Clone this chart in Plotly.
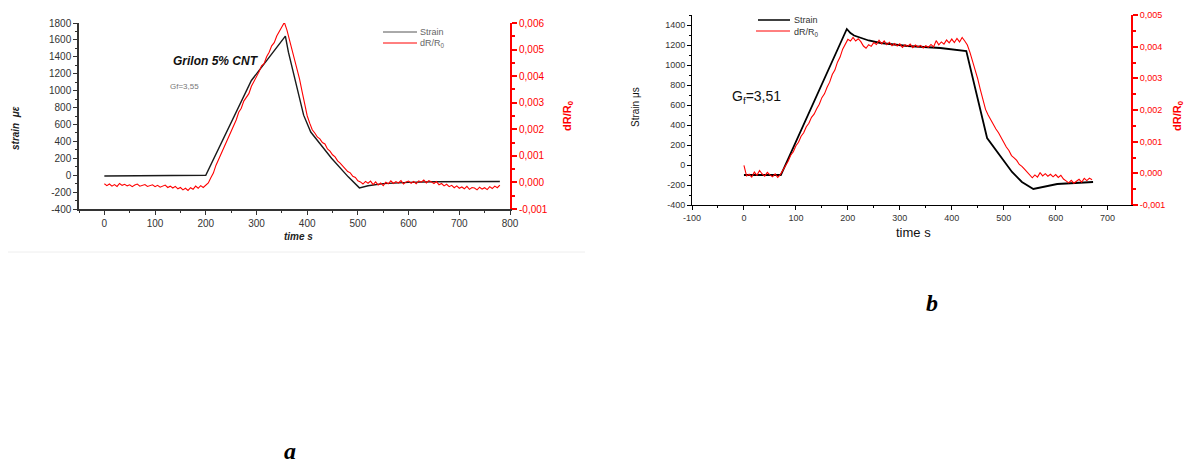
import plotly.graph_objects as go

# The page body has an 8px margin, so the figure is drawn 8px in from the window edge.
OFF = 8
W, H = 1194 - OFF, 467 - OFF

# ---------------- Panel a data ----------------
strain_a_t = [0, 195, 200, 290, 357, 363, 377, 393, 407, 448, 481, 503, 520, 550, 600, 650, 780]
strain_a_v = [-10, -5, 0, 1120, 1645, 1455, 1100, 710, 510, 200, -20, -150, -125, -100, -85, -78, -75]

dr_a_t0, dr_a_dt = 0, 5
dr_a = [
    -0.00005, -0.00012, -0.00006, -0.00014, -0.00008, -0.00015, -0.00004, -0.00011, -0.00007, -0.00013,
    -0.00009, -0.00016, -0.00010, -0.00006, -0.00014, -0.00011, -0.00008, -0.00015, -0.00012, -0.00009,
    -0.00016, -0.00011, -0.00018, -0.00013, -0.00010, -0.00019, -0.00014, -0.00021, -0.00015, -0.00024,
    -0.00019, -0.00028, -0.00022, -0.00030, -0.00020, -0.00026, -0.00014, -0.00022, -0.00012, -0.00019,
    -0.00009, -0.00002, 0.00018, 0.00035, 0.00064, 0.00086, 0.00102, 0.00131, 0.00146, 0.00175,
    0.00192, 0.00218, 0.00235, 0.00264, 0.00279, 0.00306, 0.00321, 0.00334, 0.00362, 0.00379,
    0.00398, 0.00416, 0.00439, 0.00447, 0.00473, 0.00490, 0.00514, 0.00526, 0.00551, 0.00568,
    0.00589, 0.00602, 0.00574, 0.00538, 0.00501, 0.00465, 0.00426, 0.00389, 0.00342, 0.00297,
    0.00251, 0.00223, 0.00198, 0.00186, 0.00171, 0.00164, 0.00150, 0.00145, 0.00126, 0.00118,
    0.00104, 0.00096, 0.00081, 0.00073, 0.00062, 0.00054, 0.00041, 0.00036, 0.00023, 0.00019,
    0.00006, 0.00002, -0.00006, 0.00004, -0.00003, 0.00005, -0.00008, 0.00002, -0.00010, -0.00002,
    -0.00012, 0.00001, -0.00005, 0.00006, -0.00004, 0.00003, -0.00002, 0.00007, -0.00006, 0.00002,
    0.00005, -0.00003, 0.00004, -0.00005, 0.00006, 0.00001, 0.00009, -0.00002, 0.00007, 0.00002,
    -0.00004, 0.00003, -0.00009, -0.00004, -0.00013, -0.00007, -0.00016, -0.00011, -0.00020, -0.00013,
    -0.00022, -0.00017, -0.00024, -0.00015, -0.00026, -0.00019, -0.00021, -0.00028, -0.00018, -0.00025,
    -0.00020, -0.00027, -0.00016, -0.00023, -0.00014, -0.00020, -0.00010,
]

# ---------------- Panel b data ----------------
strain_b_t = [0, 71, 198, 205, 212, 225, 240, 263, 315, 378, 428, 468, 490, 516, 535, 557, 603, 672]
strain_b_v = [-100, -100, 1360, 1320, 1295, 1270, 1245, 1220, 1190, 1170, 1140, 270, 110, -70, -170, -240, -190, -170]

dr_b_t0, dr_b_dt = 0, 5
dr_b = [
    0.00025, -0.00008, -0.00003, -0.00012, 0.00004, -0.00006, 0.00009, -0.00002, -0.00009, 0.00003,
    -0.00005, -0.00011, -0.00002, -0.00013, -0.00004, 0.00010, 0.00027, 0.00038, 0.00057, 0.00068,
    0.00087, 0.00098, 0.00117, 0.00128, 0.00147, 0.00158, 0.00177, 0.00187, 0.00204, 0.00218,
    0.00239, 0.00251, 0.00272, 0.00288, 0.00312, 0.00326, 0.00351, 0.00367, 0.00392, 0.00406,
    0.00423, 0.00418, 0.00429, 0.00418, 0.00425, 0.00416, 0.00402, 0.00395, 0.00406, 0.00401,
    0.00413, 0.00407, 0.00420, 0.00409, 0.00418, 0.00406, 0.00414, 0.00403, 0.00410, 0.00402,
    0.00409, 0.00398, 0.00406, 0.00401, 0.00408, 0.00397, 0.00405, 0.00399, 0.00404, 0.00396,
    0.00403, 0.00398, 0.00407, 0.00399, 0.00419, 0.00406, 0.00415, 0.00408, 0.00421, 0.00412,
    0.00424, 0.00413, 0.00426, 0.00415, 0.00429, 0.00418, 0.00405, 0.00382, 0.00356, 0.00331,
    0.00298, 0.00264, 0.00231, 0.00202, 0.00184, 0.00169, 0.00151, 0.00140, 0.00128, 0.00112,
    0.00101, 0.00083, 0.00072, 0.00056, 0.00049, 0.00041, 0.00028, 0.00022, 0.00013, 0.00004,
    -0.00006, -0.00014, -0.00005, -0.00012, 0.00002, -0.00008, -0.00001, -0.00009, -0.00003, -0.00011,
    -0.00004, -0.00013, -0.00006, -0.00018, -0.00024, -0.00030, -0.00022, -0.00031, -0.00025, -0.00019,
    -0.00028, -0.00016, -0.00023, -0.00015, -0.00020,
]

# ---------------- tick labels ----------------
xa_ticks = [0, 100, 200, 300, 400, 500, 600, 700, 800]
xa_text = ["0", "100", "200", "300", "400", "500", "600", "700", "800"]
ya_ticks = [-400, -200, 0, 200, 400, 600, 800, 1000, 1200, 1400, 1600, 1800]
ya_text = ["-400", "-200", "0", "200", "400", "600", "800", "1000", "1200", "1400", "1600", "1800"]
ya2_ticks = [-0.001, 0.0, 0.001, 0.002, 0.003, 0.004, 0.005, 0.006]
ya2_text = ["-0,001", "0,000", "0,001", "0,002", "0,003", "0,004", "0,005", "0,006"]
xb_ticks = [-100, 0, 100, 200, 300, 400, 500, 600, 700]
xb_text = ["-100", "0", "100", "200", "300", "400", "500", "600", "700"]
yb_ticks = [-400, -200, 0, 200, 400, 600, 800, 1000, 1200, 1400]
yb_text = ["-400", "-200", "0", "200", "400", "600", "800", "1000", "1200", "1400"]
yb2_ticks = [-0.001, 0.0, 0.001, 0.002, 0.003, 0.004, 0.005]
yb2_text = ["-0,001", "0,000", "0,001", "0,002", "0,003", "0,004", "0,005"]

FONT = "Liberation Sans"
RED = "#ff0000"


def px(x):
    return (x - OFF) / W


def py(y):
    return 1 - (y - OFF) / H


fig = go.Figure()

# Panel a traces
fig.add_trace(go.Scatter(x=strain_a_t, y=strain_a_v, mode="lines", xaxis="x", yaxis="y",
                         line=dict(color="#1a1a1a", width=1.4), showlegend=False))
fig.add_trace(go.Scatter(x0=dr_a_t0, dx=dr_a_dt, y=dr_a, mode="lines", xaxis="x", yaxis="y2",
                         line=dict(color=RED, width=1.1), showlegend=False))
# Panel b traces
fig.add_trace(go.Scatter(x=strain_b_t, y=strain_b_v, mode="lines", xaxis="x2", yaxis="y3",
                         line=dict(color="#000000", width=1.8), showlegend=False))
fig.add_trace(go.Scatter(x0=dr_b_t0, dx=dr_b_dt, y=dr_b, mode="lines", xaxis="x2", yaxis="y4",
                         line=dict(color=RED, width=1.1), showlegend=False))

tickfont_a = dict(family=FONT, size=10, color="#333333")
tickfont_b = dict(family=FONT, size=9, color="#333333")

common = dict(showgrid=False, zeroline=False, showline=True, ticks="outside",
              fixedrange=True, automargin=False, tickmode="array")

fig.update_layout(
    width=W, height=H,
    margin=dict(l=0, r=0, t=0, b=0, autoexpand=False),
    paper_bgcolor="white", plot_bgcolor="white",
    showlegend=False,
    xaxis=dict(domain=[px(79), px(510)], anchor="y", range=[-50, 800],
               tickvals=xa_ticks, ticktext=xa_text, ticklen=4, tickwidth=1,
               linecolor="#333333", linewidth=1.5, tickcolor="#333333", tickfont=tickfont_a,
               minor=dict(dtick=50, tick0=0, ticklen=2, ticks="outside", tickcolor="#333333"),
               **common),
    yaxis=dict(domain=[py(209), py(23)], anchor="x", range=[-400, 1800],
               tickvals=ya_ticks, ticktext=ya_text, ticklen=4, tickwidth=1,
               linecolor="#333333", linewidth=1.5, tickcolor="#333333", tickfont=tickfont_a,
               minor=dict(dtick=100, tick0=0, ticklen=2, ticks="outside", tickcolor="#333333"),
               **common),
    yaxis2=dict(overlaying="y", anchor="x", side="right", range=[-0.001, 0.006],
                tickvals=ya2_ticks, ticktext=ya2_text, ticklen=5, tickwidth=1.5,
                linecolor=RED, linewidth=2, tickcolor=RED,
                tickfont=dict(family=FONT, size=10, color=RED),
                minor=dict(dtick=0.0005, tick0=0, ticklen=3, ticks="outside", tickcolor=RED),
                **common),
    xaxis2=dict(domain=[px(692), px(1131)], anchor="y3", range=[-100, 745],
                tickvals=xb_ticks, ticktext=xb_text, ticklen=4, tickwidth=1,
                linecolor="#000000", linewidth=1, tickcolor="#000000", tickfont=tickfont_b,
                minor=dict(dtick=50, tick0=0, ticklen=2, ticks="outside", tickcolor="#000000"),
                **common),
    yaxis3=dict(domain=[py(205), py(15)], anchor="x2", range=[-400, 1500],
                tickvals=yb_ticks, ticktext=yb_text, ticklen=4, tickwidth=1,
                linecolor="#000000", linewidth=1, tickcolor="#000000", tickfont=tickfont_b,
                minor=dict(dtick=100, tick0=0, ticklen=2, ticks="outside", tickcolor="#000000"),
                **common),
    yaxis4=dict(overlaying="y3", anchor="x2", side="right", range=[-0.001, 0.005],
                tickvals=yb2_ticks, ticktext=yb2_text, ticklen=5, tickwidth=1.5,
                linecolor=RED, linewidth=2, tickcolor=RED,
                tickfont=dict(family=FONT, size=9, color=RED),
                minor=dict(dtick=0.0005, tick0=0, ticklen=3, ticks="outside", tickcolor=RED),
                **common),
)


def ann(x, y, text, size, color="#000000", bold=False, italic=False, angle=0,
        xanchor="center", yanchor="middle", family=FONT):
    t = text
    if bold:
        t = "<b>" + t + "</b>"
    if italic:
        t = "<i>" + t + "</i>"
    fig.add_annotation(x=px(x), y=py(y), xref="paper", yref="paper", text=t, showarrow=False,
                       xanchor=xanchor, yanchor=yanchor, textangle=angle,
                       font=dict(family=family, size=size, color=color))


# Panel a texts
ann(298, 237, "time s", 10, "#222222", bold=True, italic=True)
ann(16, 128, "strain  με", 10, "#222222", bold=True, italic=True, angle=-90)
ann(568, 116, "dR/R<sub>0</sub>", 11, RED, bold=True, angle=-90)
ann(216, 61, "Grilon 5% CNT", 12, "#111111", bold=True, italic=True)
ann(184, 87, "Gf=3,55", 8, "#777777")
# Panel a legend
fig.add_shape(type="line", xref="paper", yref="paper", x0=px(383), x1=px(417), y0=py(32), y1=py(32),
              line=dict(color="#555555", width=1))
fig.add_shape(type="line", xref="paper", yref="paper", x0=px(383), x1=px(417), y0=py(43), y1=py(43),
              line=dict(color=RED, width=1))
ann(418, 32, "Strain", 9, "#666666", xanchor="left")
ann(418, 44, "dR/R<sub>0</sub>", 9, "#666666", xanchor="left")
# faint frame line under panel a
fig.add_shape(type="line", xref="paper", yref="paper", x0=0, x1=px(585), y0=py(252), y1=py(252),
              line=dict(color="#eeeeee", width=1))

# Panel b texts
ann(913, 232, "time s", 13, "#111111")
ann(635, 107, "Strain μs", 10, "#111111", angle=-90)
ann(1187, 116, "dR/R<sub>0</sub>", 11, RED, bold=True, angle=-90, xanchor="right")
ann(756, 97, "G<sub>f</sub>=3,51", 14, "#111111")
# Panel b legend
fig.add_shape(type="line", xref="paper", yref="paper", x0=px(758), x1=px(790), y0=py(20), y1=py(20),
              line=dict(color="#000000", width=1.5))
fig.add_shape(type="line", xref="paper", yref="paper", x0=px(756), x1=px(790), y0=py(31), y1=py(31),
              line=dict(color=RED, width=1))
ann(792, 20, "Strain", 9, "#333333", xanchor="left")
ann(792, 32, "dR/R<sub>0</sub>", 9, "#333333", xanchor="left")

# Panel labels
ann(290, 466, "a", 24, "#000000", bold=True, italic=True, yanchor="bottom", family="Liberation Serif")
ann(932, 303, "b", 24, "#000000", bold=True, italic=True, family="Liberation Serif")

fig.write_html("out.html")
